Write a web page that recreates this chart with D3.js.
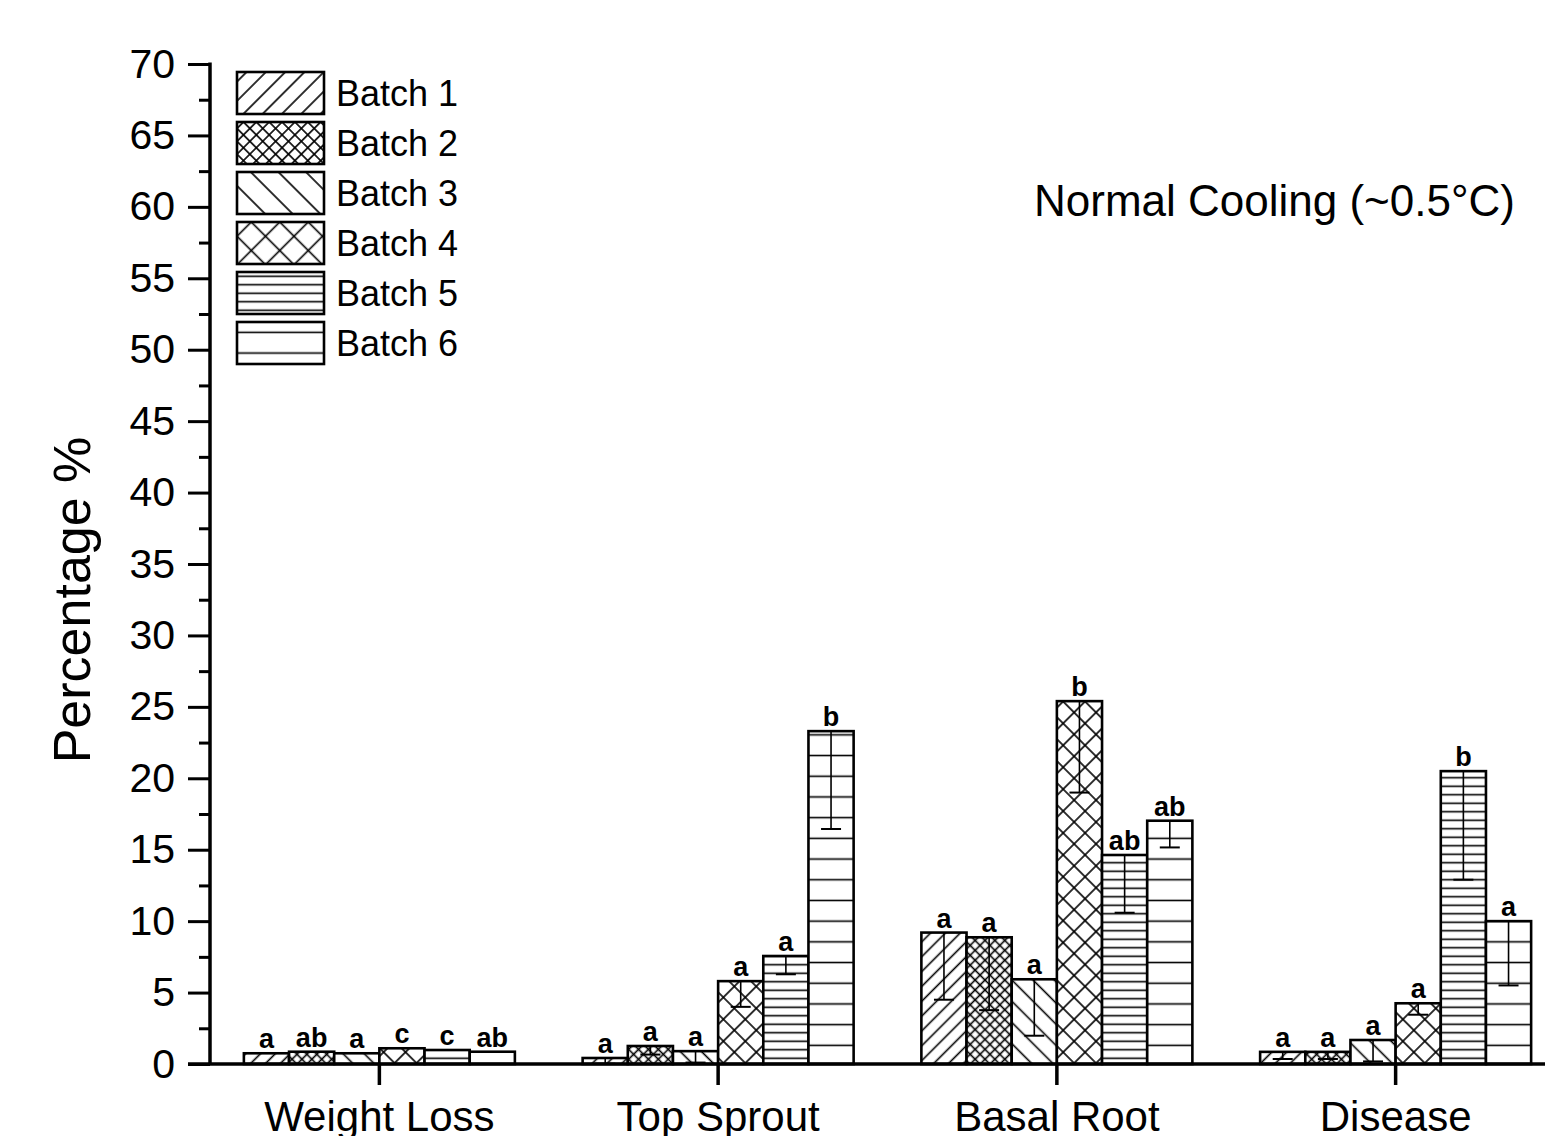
<!DOCTYPE html>
<html>
<head>
<meta charset="utf-8">
<script src="https://cdn.jsdelivr.net/npm/d3@7"></script>
<style>
html,body{margin:0;padding:0;background:#fff;}
svg{display:block;}
</style>
</head>
<body>
<svg id="chart" width="1545" height="1136"></svg>
<script>
// ---- data ----
const categories = ["Weight Loss", "Top Sprout", "Basal Root", "Disease"];
const batches = ["Batch 1", "Batch 2", "Batch 3", "Batch 4", "Batch 5", "Batch 6"];
const batch1 = [0.75, 0.42, 9.2, 0.85];
const batch2 = [0.86, 1.26, 8.87, 0.85];
const batch3 = [0.75, 0.9, 5.93, 1.68];
const batch4 = [1.1, 5.8, 25.4, 4.25];
const batch5 = [0.98, 7.56, 14.63, 20.5];
const batch6 = [0.86, 23.3, 17.03, 10.0];
const err1 = [0, 0.4, 4.7, 0.5];
const err2 = [0, 0.6, 5.1, 0.5];
const err3 = [0, 0.8, 3.95, 1.5];
const err4 = [0, 1.8, 6.4, 0.8];
const err5 = [0, 1.28, 4.04, 7.6];
const err6 = [0, 6.85, 1.87, 4.5];
const let1 = ["a", "a", "a", "a"];
const let2 = ["ab", "a", "a", "a"];
const let3 = ["a", "a", "a", "a"];
const let4 = ["c", "a", "b", "a"];
const let5 = ["c", "a", "ab", "b"];
const let6 = ["ab", "b", "ab", "a"];
const yTicks = [0, 5, 10, 15, 20, 25, 30, 35, 40, 45, 50, 55, 60, 65, 70];
const yMinorTicks = [2.5, 7.5, 12.5, 17.5, 22.5, 27.5, 32.5, 37.5, 42.5, 47.5, 52.5, 57.5, 62.5, 67.5];
const yTitle = "Percentage %";
const annotation = "Normal Cooling (~0.5°C)";

const values = [batch1, batch2, batch3, batch4, batch5, batch6];
const errors = [err1, err2, err3, err4, err5, err6];
const letters = [let1, let2, let3, let4, let5, let6];

const rows = [];
categories.forEach((c, ci) => {
  batches.forEach((b, bi) => {
    rows.push({cat: c, batch: b, bi: bi, v: values[bi][ci], e: errors[bi][ci], l: letters[bi][ci]});
  });
});

// ---- layout ----
const FONT = "'Liberation Sans', Arial, sans-serif";
const svg = d3.select("#chart");
const x0 = 210, x1 = 1565, yTop = 64, yBot = 1064;

const x = d3.scaleBand().domain(categories).range([x0, x1]).padding(0);
const xb = d3.scaleBand().domain(batches).range([0.1 * x.bandwidth(), 0.9 * x.bandwidth()]).padding(0);
const y = d3.scaleLinear().domain([0, 70]).range([yBot, yTop]);

// ---- patterns ----
const defs = svg.append("defs");
function makePattern(id, spacing, angle, kind) {
  const p = defs.append("pattern")
    .attr("id", id)
    .attr("patternUnits", "userSpaceOnUse")
    .attr("width", spacing).attr("height", spacing)
    .attr("patternTransform", `rotate(${angle})`);
  p.append("rect").attr("width", spacing).attr("height", spacing).attr("fill", "#fff");
  const sw = 1.6;
  if (kind === "v" || kind === "x") {
    p.append("line").attr("x1", spacing / 2).attr("x2", spacing / 2).attr("y1", -1).attr("y2", spacing + 1)
      .attr("stroke", "#000").attr("stroke-width", sw);
  }
  if (kind === "h" || kind === "x") {
    p.append("line").attr("y1", spacing / 2).attr("y2", spacing / 2).attr("x1", -1).attr("x2", spacing + 1)
      .attr("stroke", "#000").attr("stroke-width", sw);
  }
}
const patSpec = [
  {s: 10.5, a: 45, k: "v"},
  {s: 7, a: 45, k: "x"},
  {s: 15, a: -45, k: "v"},
  {s: 15.5, a: 45, k: "x"},
  {s: 8.5, a: 0, k: "h"},
  {s: 20.7, a: 0, k: "h"}
];
patSpec.forEach((p, i) => {
  makePattern("pat" + i, p.s, p.a, p.k);
  makePattern("lpat" + i, p.k === "h" ? p.s : p.s * 1.3, p.a, p.k);
});

// ---- bars ----
const gBars = svg.append("g");
gBars.selectAll("rect.bar").data(rows).join("rect")
  .attr("class", "bar")
  .attr("x", d => x(d.cat) + xb(d.batch))
  .attr("width", xb.bandwidth())
  .attr("y", d => y(d.v))
  .attr("height", d => y(0) - y(d.v))
  .attr("fill", d => `url(#pat${d.bi})`)
  .attr("stroke", "#000").attr("stroke-width", 2.6);

// ---- error bars (minus direction) ----
const eb = gBars.selectAll("g.err").data(rows.filter(d => d.e > 0)).join("g").attr("class", "err");
eb.append("line")
  .attr("x1", d => x(d.cat) + xb(d.batch) + xb.bandwidth() / 2)
  .attr("x2", d => x(d.cat) + xb(d.batch) + xb.bandwidth() / 2)
  .attr("y1", d => y(d.v)).attr("y2", d => y(d.v - d.e))
  .attr("stroke", "#000").attr("stroke-width", 1.6);
eb.append("line")
  .attr("x1", d => x(d.cat) + xb(d.batch) + xb.bandwidth() / 2 - 10)
  .attr("x2", d => x(d.cat) + xb(d.batch) + xb.bandwidth() / 2 + 10)
  .attr("y1", d => y(d.v - d.e)).attr("y2", d => y(d.v - d.e))
  .attr("stroke", "#000").attr("stroke-width", 2);

// ---- letters ----
gBars.selectAll("text.lbl").data(rows).join("text")
  .attr("class", "lbl")
  .attr("x", d => x(d.cat) + xb(d.batch) + xb.bandwidth() / 2)
  .attr("y", d => y(d.v) - 5)
  .attr("text-anchor", "middle")
  .attr("font-family", FONT).attr("font-weight", "bold").attr("font-size", 27)
  .text(d => d.l);

// ---- axes ----
const yAxis = svg.append("g").attr("transform", `translate(${x0},0)`)
  .call(d3.axisLeft(y).tickValues(yTicks).tickSize(22).tickPadding(13).tickFormat(d3.format("d")));
yAxis.select(".domain").remove();
yAxis.selectAll(".tick line").attr("stroke", "#000").attr("stroke-width", 3);
yAxis.selectAll(".tick text").attr("font-family", FONT).attr("font-size", 41).attr("fill", "#000");

const yMinor = svg.append("g").attr("transform", `translate(${x0},0)`)
  .call(d3.axisLeft(y).tickValues(yMinorTicks).tickSize(11).tickFormat(""));
yMinor.select(".domain").remove();
yMinor.selectAll(".tick line").attr("stroke", "#000").attr("stroke-width", 3);

svg.append("line").attr("x1", x0).attr("x2", x0).attr("y1", y(70) - 1.5).attr("y2", y(0))
  .attr("stroke", "#000").attr("stroke-width", 3.5);

const xAxis = svg.append("g").attr("transform", `translate(0,${yBot})`)
  .call(d3.axisBottom(x).tickSize(21).tickPadding(16));
xAxis.select(".domain").remove();
xAxis.selectAll(".tick line").attr("stroke", "#000").attr("stroke-width", 3.5);
xAxis.selectAll(".tick text").attr("font-family", FONT).attr("font-size", 42).attr("fill", "#000");

svg.append("line").attr("x1", 188).attr("x2", x1).attr("y1", yBot).attr("y2", yBot)
  .attr("stroke", "#000").attr("stroke-width", 3.5);

// ---- y title ----
svg.append("text")
  .attr("transform", "translate(90,600) rotate(-90)")
  .attr("text-anchor", "middle")
  .attr("font-family", FONT).attr("font-size", 52)
  .text(yTitle);

// ---- annotation ----
svg.append("text")
  .attr("x", 1515).attr("y", 216)
  .attr("text-anchor", "end")
  .attr("font-family", FONT).attr("font-size", 44)
  .text(annotation);

// ---- legend ----
const leg = svg.append("g");
const legItems = leg.selectAll("g").data(batches).join("g")
  .attr("transform", (d, i) => `translate(237,${72 + i * 50})`);
legItems.append("rect")
  .attr("width", 87).attr("height", 42)
  .attr("fill", (d, i) => `url(#lpat${i})`)
  .attr("stroke", "#000").attr("stroke-width", 2.6);
legItems.append("text")
  .attr("x", 99).attr("y", 34)
  .attr("font-family", FONT).attr("font-size", 36)
  .text(d => d);
</script>
</body>
</html>
